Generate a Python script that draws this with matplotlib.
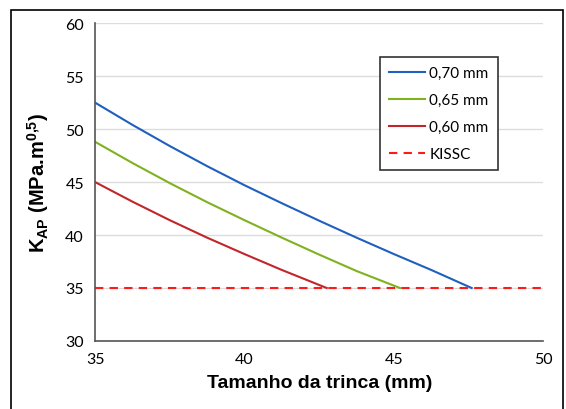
import matplotlib
matplotlib.use("Agg")
import matplotlib.pyplot as plt
from matplotlib.patches import Rectangle

# dados
x_070 = [35, 36.25, 37.5, 38.75, 40, 41.25, 42.5, 43.75, 45, 46.25, 47.6]
k_070 = [52.5, 50.4, 48.4, 46.5, 44.7, 43.0, 41.35, 39.75, 38.2, 36.7, 35.0]
x_065 = [35, 36.25, 37.5, 38.75, 40, 41.25, 42.5, 43.75, 45.2]
k_065 = [48.8, 46.8, 44.9, 43.1, 41.4, 39.75, 38.15, 36.6, 35.0]
x_060 = [35, 36.25, 37.5, 38.75, 40, 41.25, 42.75]
k_060 = [45.0, 43.15, 41.4, 39.75, 38.2, 36.7, 35.0]
kissc_x = [35, 50]
kissc = [35, 35]

plt.rcParams['font.family'] = ['Lato', 'DejaVu Sans']
plt.rcParams['mathtext.fontset'] = 'custom'
plt.rcParams['mathtext.rm'] = 'Liberation Sans:bold'
plt.rcParams['mathtext.it'] = 'Liberation Sans:bold'
plt.rcParams['mathtext.bf'] = 'Liberation Sans:bold'

fig = plt.figure(figsize=(5.66, 4.10), dpi=100)
ax = fig.add_axes([0.168, 0.166, 0.792, 0.775])

# moldura externa
fig.patches.append(Rectangle((11/566, -0.05), 552/566, 1.05 - 11/410, transform=fig.transFigure,
                             fill=False, edgecolor='black', linewidth=1.2))

ax.plot(x_070, k_070, color='#1f5fbf', lw=1.5, label='0,70 mm')
ax.plot(x_065, k_065, color='#7fb21f', lw=1.5, label='0,65 mm')
ax.plot(x_060, k_060, color='#c0262a', lw=1.5, label='0,60 mm')
ax.plot(kissc_x, kissc, color='#ff1a1a', lw=1.5, ls=(0, (4, 3)), label='KISSC')

ax.set_xlim(35, 50)
ax.set_ylim(30, 60)
ax.set_xticks([35, 40, 45, 50])
ax.set_yticks(range(30, 61, 5))
ax.yaxis.grid(True, color='#dcdcdc', lw=1)
ax.set_axisbelow(True)
ax.tick_params(length=0, labelsize=11.5, pad=8)
for s in ['top', 'right']:
    ax.spines[s].set_visible(False)
for s in ['left', 'bottom']:
    ax.spines[s].set_color('#555555')
    ax.spines[s].set_linewidth(1.2)

ax.set_xlabel('Tamanho da trinca (mm)', fontsize=14, fontweight='bold',
              family='Liberation Sans', labelpad=6)
ax.set_ylabel(r'K$_{\mathrm{AP}}$ (MPa.m$^{\mathrm{0{,}5}}$)', fontsize=14.5, fontweight='bold',
              family='Liberation Sans', labelpad=10)

leg = ax.legend(loc='upper right', bbox_to_anchor=(0.915, 0.918), fontsize=11,
                handlelength=2.3, handletextpad=0.3, fancybox=False,
                edgecolor='#333333', framealpha=1, labelspacing=0.85,
                borderpad=0.6)
leg.get_frame().set_linewidth(1.2)

fig.savefig('out.png', dpi=100)
